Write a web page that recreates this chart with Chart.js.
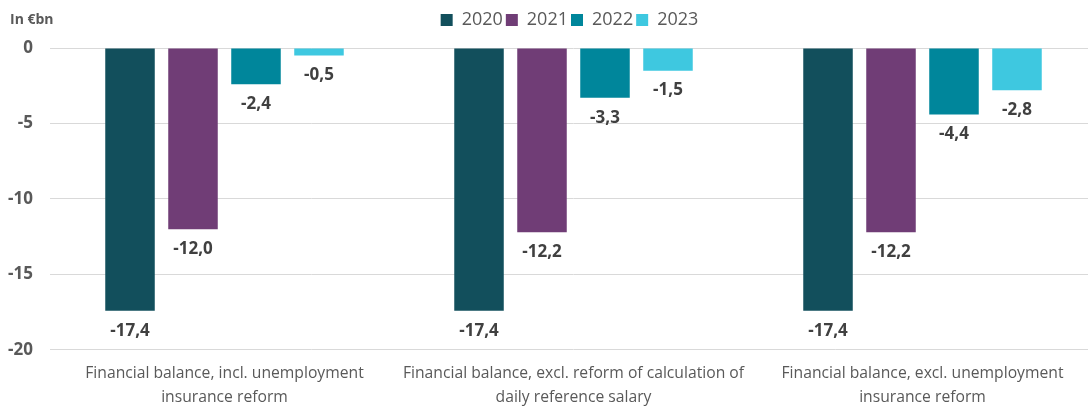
<!DOCTYPE html>
<html>
<head>
<meta charset="utf-8">
<script src="https://cdn.jsdelivr.net/npm/chart.js@4"></script>
<style>
  html, body { margin: 0; padding: 0; background: #fff; overflow: hidden; }
  #wrap { position: relative; width: 1088px; height: 407px; overflow: hidden; }
  #unit { position: absolute; left: 10px; top: 9px; font: bold 14px "Open Sans", sans-serif; color: #595959; }
</style>
</head>
<body>
<div id="wrap">
  <div id="unit">In €bn</div>
  <!-- plot runs a little past the right edge of the frame -->
  <canvas id="balanceChart" width="1097" height="407"></canvas>
</div>
<script>
const categories = [
    ['Financial balance, incl. unemployment', 'insurance reform'],
    ['Financial balance, excl. reform of calculation of', 'daily reference salary'],
    ['Financial balance, excl. unemployment', 'insurance reform']
];
const years = ['2020', '2021', '2022', '2023'];
const values2020 = [-17.4, -17.4, -17.4];
const values2021 = [-12.0, -12.2, -12.2];
const values2022 = [-2.4, -3.3, -4.4];
const values2023 = [-0.5, -1.5, -2.8];
const yTicks = [0, -5, -10, -15, -20];

const colors = ['#124F5C', '#703D76', '#00869B', '#3EC8E0'];
const textGrey = '#595959';
const fontFamily = '"Open Sans", sans-serif';

// value labels under the end of each bar, with a decimal comma
const barLabels = {
    id: 'barLabels',
    afterDatasetsDraw(chart) {
        const c = chart.ctx;
        c.save();
        c.font = 'bold 17px ' + fontFamily;
        c.fillStyle = '#404040';
        c.textAlign = 'center';
        c.textBaseline = 'middle';
        chart.data.datasets.forEach((ds, i) => {
            chart.getDatasetMeta(i).data.forEach((bar, j) => {
                const v = ds.data[j];
                c.fillText(v.toFixed(1).replace('.', ','), bar.x, bar.y + 20);
            });
        });
        c.restore();
    }
};

// more room under the legend, and legend nudged over the plot's centre
const legendTweak = {
    id: 'legendTweak',
    beforeInit(chart) {
        const legend = chart.legend;
        const fit = legend.fit;
        legend.fit = function () {
            fit.bind(this)();
            this.height += 9;
        };
        const draw = legend.draw;
        legend.draw = function () {
            this.ctx.save();
            this.ctx.translate(21, 0);
            draw.apply(this, arguments);
            this.ctx.restore();
        };
    }
};

const ctx = document.getElementById('balanceChart').getContext('2d');
const balanceChart = new Chart(ctx, {
    type: 'bar',
    data: {
        labels: categories,
        datasets: [values2020, values2021, values2022, values2023].map((d, i) => ({
            label: years[i],
            data: d,
            backgroundColor: colors[i],
            categoryPercentage: 0.722,
            barPercentage: 0.786
        }))
    },
    options: {
        responsive: false,
        animation: false,
        layout: { padding: { left: 0, right: 0, top: 8, bottom: -7 } },
        plugins: {
            legend: {
                position: 'top',
                labels: {
                    boxWidth: 12,
                    boxHeight: 12,
                    padding: 3,
                    color: textGrey,
                    font: { family: fontFamily, size: 18 }
                }
            },
            tooltip: { enabled: false }
        },
        scales: {
            x: {
                grid: { display: false },
                border: { display: false },
                ticks: {
                    color: textGrey,
                    font: { family: fontFamily, size: 15.7, lineHeight: 1.53 },
                    padding: 4,
                    autoSkip: false,
                    maxRotation: 0
                }
            },
            y: {
                min: -20,
                max: 0,
                afterBuildTicks(axis) {
                    axis.ticks = yTicks.map(v => ({ value: v }));
                },
                afterFit(axis) {
                    axis.width = 50;
                },
                grid: { color: '#D9D9D9', lineWidth: 1, drawTicks: false },
                border: { display: false },
                ticks: {
                    color: textGrey,
                    padding: 17,
                    font: { family: fontFamily, size: 17, weight: 'bold' }
                }
            }
        }
    },
    plugins: [barLabels, legendTweak]
});
</script>
</body>
</html>
